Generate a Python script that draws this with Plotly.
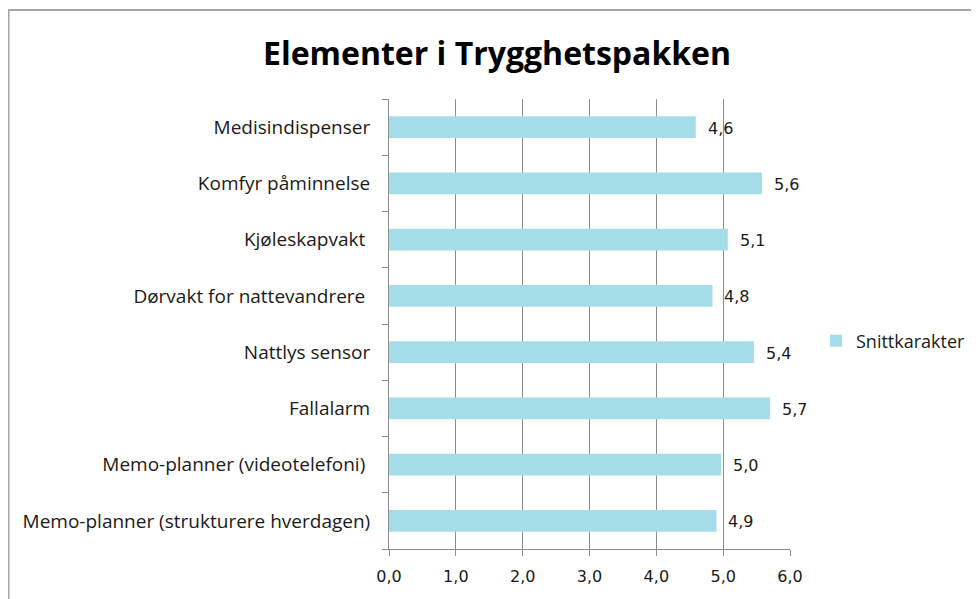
import plotly.graph_objects as go

categories = [
    "Medisindispenser",
    "Komfyr påminnelse",
    "Kjøleskapvakt",
    "Dørvakt for nattevandrere",
    "Nattlys sensor",
    "Fallalarm",
    "Memo-planner (videotelefoni)",
    "Memo-planner (strukturere hverdagen)",
]
values = [4.59, 5.58, 5.07, 4.84, 5.46, 5.70, 4.97, 4.90]
value_labels = ["4,6", "5,6", "5,1", "4,8", "5,4", "5,7", "5,0", "4,9"]
tick_labels = [
    "Medisindispenser",
    "Komfyr påminnelse",
    "Kjøleskapvakt\u00a0",
    "Dørvakt for nattevandrere\u00a0",
    "Nattlys sensor",
    "Fallalarm",
    "Memo-planner (videotelefoni)\u00a0",
    "Memo-planner (strukturere hverdagen)",
]
x_ticks = [0, 1, 2, 3, 4, 5, 6]
series_name = "Snittkarakter"
title = "Elementer i Trygghetspakken"

# page body has an 8px margin; figure coordinates are shifted accordingly
OFF = 8
W, H = 979 - OFF, 599 - OFF
ml, mt = 389 - OFF, 99 - OFF
mr = W - (790 - OFF)
mb = H - (549 - OFF)
pw, ph = W - ml - mr, H - mt - mb

def px_x(p):
    return (p - OFF - ml) / pw

def px_y(p):
    return (H - mb - (p - OFF)) / ph

grid = "#8c8c8c"
bar_color = "#a4dde8"
txt = "#1a1a1a"

fig = go.Figure()
fig.add_trace(go.Bar(
    x=values, y=categories, orientation="h", name=series_name,
    marker=dict(color=bar_color, line=dict(width=0)),
    showlegend=True, hoverinfo="skip",
))

annotations = []
for v, c, t in zip(values, categories, value_labels):
    annotations.append(dict(
        x=v, y=c, xref="x", yref="y", text=t, showarrow=False,
        xanchor="left", yanchor="middle", xshift=10, yshift=-1,
        font=dict(family="DejaVu Sans", size=16, color=txt),
    ))

annotations.append(dict(
    x=px_x(497), y=px_y(52), xref="paper", yref="paper", text="<b>" + title + "</b>",
    showarrow=False, xanchor="center", yanchor="middle",
    font=dict(family="Open Sans", size=32, color="#000000"),
))

fig.update_layout(
    width=W, height=H,
    margin=dict(l=ml, r=mr, t=mt, b=mb, pad=0, autoexpand=False),
    paper_bgcolor="white", plot_bgcolor="white",
    separators=", ",
    bargap=0.61,
    annotations=annotations,
    showlegend=True,
    legend=dict(
        x=px_x(816), y=px_y(341), xanchor="left", yanchor="middle",
        font=dict(family="Open Sans", size=18, color=txt),
        bgcolor="rgba(0,0,0,0)", borderwidth=0,
    ),
    xaxis=dict(
        range=[0, 6], tickvals=x_ticks, tickformat=".1f",
        showgrid=True, gridcolor=grid, gridwidth=1,
        showline=True, linecolor=grid, linewidth=1,
        ticks="outside", ticklen=6, tickcolor=grid,
        ticklabelstandoff=7, automargin=False,
        tickfont=dict(family="DejaVu Sans", size=16, color=txt),
        zeroline=False, fixedrange=True,
    ),
    yaxis=dict(
        type="category", categoryorder="array", categoryarray=categories,
        autorange="reversed",
        tickvals=categories, ticktext=tick_labels,
        tickson="boundaries", ticks="outside", ticklen=6, tickcolor=grid,
        showline=True, linecolor=grid, linewidth=1,
        showgrid=False, zeroline=False, automargin=False,
        ticklabelstandoff=14,
        tickfont=dict(family="Open Sans", size=19, color=txt),
        fixedrange=True,
    ),
    shapes=[dict(
        type="rect", xref="paper", yref="paper",
        x0=px_x(8.5), x1=px_x(1000), y0=px_y(620), y1=px_y(10),
        line=dict(color="#a6a6a6", width=2), fillcolor="rgba(0,0,0,0)",
        layer="below",
    )],
)

fig.write_html("out.html")
